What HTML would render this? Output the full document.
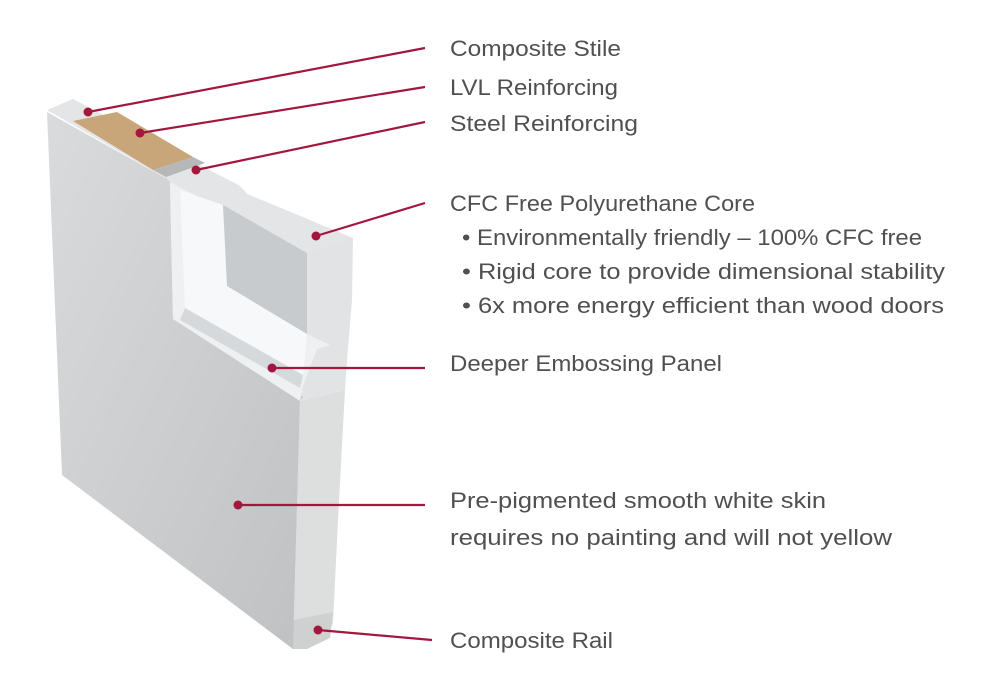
<!DOCTYPE html>
<html><head><meta charset="utf-8"><style>
html,body{margin:0;padding:0;background:#fff;}
svg{display:block}
text{font-family:"Liberation Sans",sans-serif;font-size:22px;fill:#505050;}
</style></head><body>
<svg width="1000" height="689" viewBox="0 0 1000 689" xmlns="http://www.w3.org/2000/svg">
<defs>
<linearGradient id="face" x1="0" y1="0" x2="1" y2="1">
<stop offset="0" stop-color="#d9dbdc"/><stop offset="1" stop-color="#bfc1c3"/>
</linearGradient>
</defs>
<path d="M300,401 L345,390 L347,360 L352,300 L353,238 L247,194 L240,186 L227,179 L167,179 L300,401 Z" fill="#e2e3e4"/>
<path d="M300,401 L345,390 L338,520 L333,623 L327,638 L307,649 L293,649 Z" fill="#dddede"/>
<path d="M293,620 L333,612 L330,638 L307,649 L293,649 Z" fill="#cfd0d0"/>
<path d="M47,110 L73,99 L240,186 L247,194 L353,238 L300,255 L167,179 Z" fill="#e4e5e6"/>
<path d="M73,121 L117,112 L193,157 L153,170 Z" fill="#c9a57a"/>
<path d="M153,170 L193,157 L205,163 L166,177 Z" fill="#b5b7b8"/>
<path d="M47,112 L167,179 L170,182 L173,319 L303,397 L300,401 L293,649 L62,475 Z" fill="url(#face)"/>
<path d="M170,182 L307,253 L307,334 L330,345 L317,349 L303,386 L300,401 L173,319 Z" fill="#eef0f1"/>
<path d="M180,190 L223,205 L227,286 L307,334 L303,375 L185,308 Z" fill="#f7f8f9"/>
<path d="M223,205 L307,253 L307,334 L227,286 Z" fill="#c8cbcd"/>
<path d="M185,308 L303,375 L300,388 L180,320 Z" fill="#d6d9db"/>
<g stroke="#a3173d" stroke-width="2.2" fill="none">
<line x1="88" y1="112" x2="425" y2="48"/>
<line x1="140" y1="133" x2="425" y2="87"/>
<line x1="196" y1="170" x2="425" y2="122"/>
<line x1="316" y1="236" x2="425" y2="203"/>
<line x1="272" y1="368" x2="425" y2="368"/>
<line x1="238" y1="505" x2="425" y2="505"/>
<line x1="318" y1="630" x2="432" y2="640"/>
</g>
<g fill="#a3173d">
<circle cx="88" cy="112" r="4.5"/><circle cx="140" cy="133" r="4.5"/><circle cx="196" cy="170" r="4.5"/>
<circle cx="316" cy="236" r="4.5"/><circle cx="272" cy="368" r="4.5"/><circle cx="238" cy="505" r="4.5"/><circle cx="318" cy="630" r="4.5"/>
</g>
<text x="450" y="56" textLength="171" lengthAdjust="spacingAndGlyphs">Composite Stile</text>
<text x="450" y="95" textLength="168" lengthAdjust="spacingAndGlyphs">LVL Reinforcing</text>
<text x="450" y="131" textLength="188" lengthAdjust="spacingAndGlyphs">Steel Reinforcing</text>
<text x="450" y="211" textLength="305" lengthAdjust="spacingAndGlyphs">CFC Free Polyurethane Core</text>
<text x="462" y="245" textLength="460" lengthAdjust="spacingAndGlyphs">• Environmentally friendly – 100% CFC free</text>
<text x="462" y="279" textLength="483" lengthAdjust="spacingAndGlyphs">• Rigid core to provide dimensional stability</text>
<text x="462" y="313" textLength="482" lengthAdjust="spacingAndGlyphs">• 6x more energy efficient than wood doors</text>
<text x="450" y="371" textLength="272" lengthAdjust="spacingAndGlyphs">Deeper Embossing Panel</text>
<text x="450" y="508" textLength="376" lengthAdjust="spacingAndGlyphs">Pre-pigmented smooth white skin</text>
<text x="450" y="545" textLength="442" lengthAdjust="spacingAndGlyphs">requires no painting and will not yellow</text>
<text x="450" y="648" textLength="163" lengthAdjust="spacingAndGlyphs">Composite Rail</text>
</svg>
</body></html>
